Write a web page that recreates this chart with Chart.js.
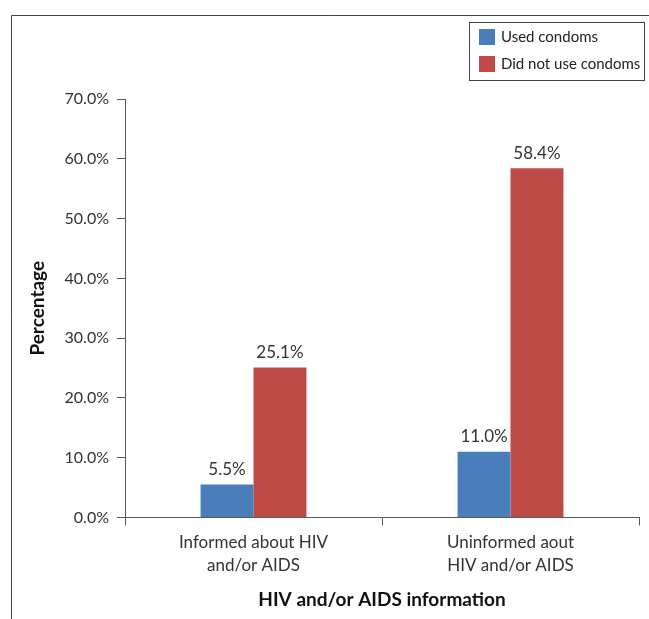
<!DOCTYPE html>
<html>
<head>
<meta charset="utf-8">
<script src="https://cdn.jsdelivr.net/npm/chart.js@4"></script>
<style>
  html, body { margin: 0; padding: 0; background: #fff; }
  #wrap { position: relative; width: 649px; height: 619px; }
</style>
</head>
<body>
<div id="wrap"><canvas id="chart" width="649" height="619"></canvas></div>
<script>
// data
const categories = [['Informed about HIV', 'and/or AIDS'], ['Uninformed aout', 'HIV and/or AIDS']];
const usedCondoms = [5.5, 11.0];
const notUsedCondoms = [25.1, 58.4];
const seriesNames = ['Used condoms', 'Did not use condoms'];
const seriesColors = ['#4a7ebb', '#be4b48'];

const FONT = 'Lato, "Open Sans", sans-serif';
const AXIS = '#595959';

// frame around the figure (cut off right and bottom)
const framePlugin = {
    id: 'frame',
    beforeDraw(chart) {
        const ctx = chart.ctx;
        ctx.save();
        ctx.strokeStyle = '#444';
        ctx.lineWidth = 1;
        ctx.beginPath();
        ctx.moveTo(11.5, 619);
        ctx.lineTo(11.5, 15.5);
        ctx.lineTo(649, 15.5);
        ctx.stroke();
        ctx.restore();
    }
};

// legend box in top right
const boxLegend = {
    id: 'boxLegend',
    afterDraw(chart) {
        const ctx = chart.ctx;
        ctx.save();
        ctx.strokeStyle = '#444';
        ctx.lineWidth = 1;
        ctx.strokeRect(469.5, 22.5, 175, 58);
        ctx.font = '15px ' + FONT;
        ctx.textBaseline = 'middle';
        chart.data.datasets.forEach((ds, i) => {
            const y = 37 + i * 27;
            ctx.fillStyle = ds.backgroundColor;
            ctx.fillRect(479, y - 8, 16, 16);
            ctx.fillStyle = '#222';
            ctx.fillText(ds.label, 501, y);
        });
        ctx.restore();
    }
};

// value labels above bars
const valueLabels = {
    id: 'valueLabels',
    afterDatasetsDraw(chart) {
        const ctx = chart.ctx;
        ctx.save();
        ctx.font = '17px ' + FONT;
        ctx.fillStyle = '#333';
        ctx.textAlign = 'center';
        ctx.textBaseline = 'middle';
        chart.data.datasets.forEach((ds, i) => {
            chart.getDatasetMeta(i).data.forEach((bar, j) => {
                ctx.fillText(ds.data[j].toFixed(1) + '%', bar.x, bar.y - 15);
            });
        });
        ctx.restore();
    }
};

new Chart(document.getElementById('chart'), {
    type: 'bar',
    data: {
        labels: categories,
        datasets: [{
            label: seriesNames[0],
            data: usedCondoms,
            backgroundColor: seriesColors[0]
        }, {
            label: seriesNames[1],
            data: notUsedCondoms,
            backgroundColor: seriesColors[1]
        }]
    },
    options: {
        responsive: false,
        animation: false,
        devicePixelRatio: 1,
        layout: { padding: { left: 12, top: 99, right: 10, bottom: 0 } },
        plugins: {
            legend: { display: false },
            tooltip: { enabled: false }
        },
        datasets: {
            bar: { categoryPercentage: 0.412, barPercentage: 1 }
        },
        scales: {
            x: {
                grid: { drawOnChartArea: false, drawTicks: true, tickLength: 8, color: AXIS },
                border: { color: AXIS, width: 1 },
                ticks: { color: '#333', font: { family: FONT, size: 17, lineHeight: 1.35 }, padding: 6, maxRotation: 0 },
                title: {
                    display: true,
                    text: 'HIV and/or AIDS information',
                    color: '#111',
                    font: { family: FONT, size: 19, weight: 'bold' },
                    padding: { top: 0, bottom: 8 }
                },
                afterFit(scale) { scale.height = 101.5; }
            },
            y: {
                min: 0,
                max: 70,
                ticks: {
                    stepSize: 10,
                    color: '#333',
                    padding: 8,
                    font: { family: FONT, size: 16 },
                    callback: v => v.toFixed(1) + '%'
                },
                grid: { drawOnChartArea: false, drawTicks: true, tickLength: 8, color: AXIS },
                border: { color: AXIS, width: 1 },
                title: {
                    display: true,
                    text: 'Percentage',
                    color: '#111',
                    font: { family: FONT, size: 19, weight: 'bold' },
                    padding: { top: 14, bottom: 0 }
                },
                afterFit(scale) { scale.width = 113; }
            }
        }
    },
    plugins: [framePlugin, boxLegend, valueLabels]
});
</script>
</body>
</html>
